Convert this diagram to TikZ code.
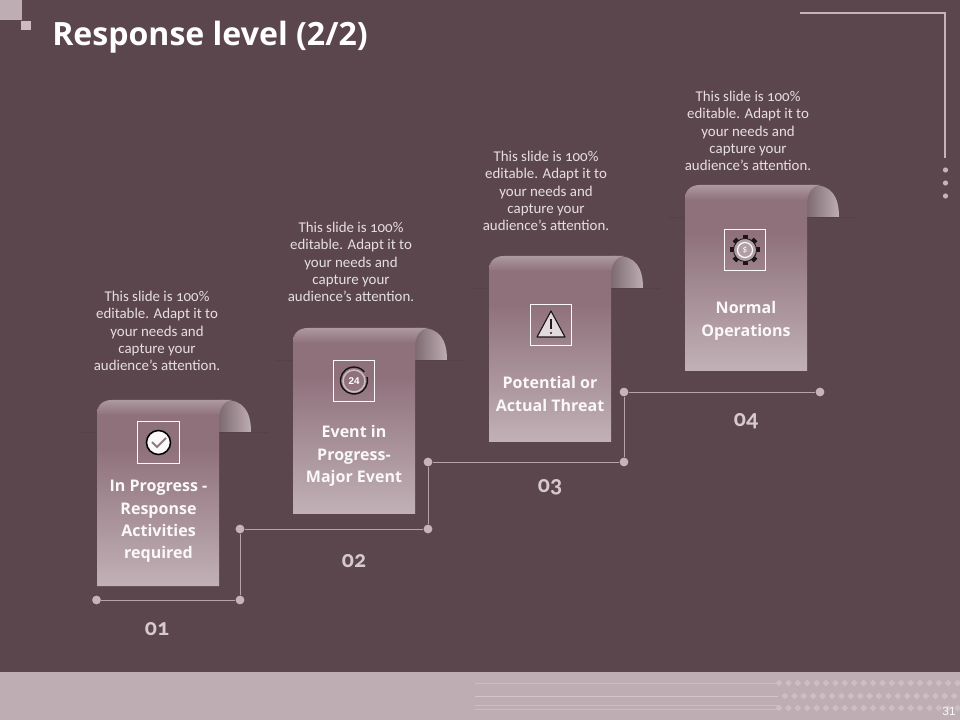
\documentclass[tikz,border=0pt]{standalone}
\usepackage{fontspec}
\usepackage{tikz}
\usetikzlibrary{positioning, calc}
\setmainfont{Carlito}[Numbers=OldStyle]
\newfontfamily\headfont{Open Sans}
\newfontfamily\pagefont{Liberation Sans}
\definecolor{slidebg}{HTML}{5C464D}
\definecolor{footbg}{HTML}{BEADB3}
\definecolor{accent}{HTML}{C6B4BB}
\definecolor{bodytext}{HTML}{E6DFE2}
\definecolor{ribbonmid}{HTML}{8F717C}
\definecolor{ribbontop}{HTML}{AD99A0}
\pgfdeclareverticalshading{ribbonfill}{100bp}{color(0bp)=(footbg!95!white); color(25bp)=(footbg!95!white);
  color(62bp)=(ribbonmid); color(71bp)=(ribbonmid); color(75bp)=(ribbontop); color(100bp)=(ribbontop)}
\tikzset{
  bodylabel/.style={align=center, text=bodytext, font=\fontsize{10.6}{12.4}\selectfont},
  steplabel/.style={align=center, text=white!92!footbg, font=\headfont\bfseries\fontsize{11.4}{15.9}\selectfont},
  numlabel/.style={text=accent!70!white, font=\bfseries\fontsize{17}{18}\selectfont},
  iconbox/.style={draw=white!92!footbg, line width=0.7pt, minimum size=1.03cm, inner sep=0pt},
  stepdot/.style={circle, fill=accent, minimum size=0.22cm, inner sep=0pt},
  stepline/.style={draw=accent!85!slidebg, line width=0.7pt},
  iconline/.style={draw=black!70!slidebg, line width=0.6pt},
  ribbon/.pic={
    % faint line behind the ribbon
    \draw[slidebg!92!black, line width=0.5pt] (-17,32) -- (172,32);
    % back of the curl
    \shade[left color=slidebg!80!white, right color=footbg]
      (122,32) -- (154,32) .. controls (154,11) and (146,0) .. (128,0) -- (122,0) -- cycle;
    % front sheet
    \path[shading=ribbonfill]
      (0,186) -- (0,14) .. controls (0,5) and (6,0) .. (15,0) -- (135,0)
      .. controls (127,1) and (122,8) .. (122,20) -- (122,186) -- cycle;
  }
}
\begin{document}
\begin{tikzpicture}[x=0.025cm, y=-0.025cm]
  \useasboundingbox (0,0) rectangle (960,720);
  \fill[slidebg] (0,0) rectangle (960,720);
  % Footer band
  \fill[footbg] (0,672) rectangle (960,720);
  \draw[footbg!80!white, line width=0.4pt] (475,683) -- (778,683);
  \draw[footbg!70!white, line width=0.5pt] (475,696) -- (778,696);
  \draw[footbg!80!white, line width=0.4pt] (475,705) -- (778,705);
  \draw[footbg!80!white, line width=0.4pt] (475,709) -- (778,709);
  \foreach \rowy/\rowx in {683/779, 696/785, 708/779}
    \foreach \i in {0,...,19}
      \fill[footbg!78!white] ($(\rowx,\rowy)+(9.4*\i,0)$) ++(-3.4,0) -- ++(3.4,-3.4) -- ++(3.4,3.4) -- ++(-3.4,3.4) -- cycle;
  \node[text=white!90!footbg, font=\pagefont\fontsize{8.5}{9}\selectfont] (pagenum) at (949,711) {31};
  % Corner marks
  \fill[footbg] (0,0) rectangle (22,20);
  \fill[accent!90!white] (21,21) rectangle (31,30);
  \draw[accent, line width=1.9pt] (800,13) -- (945,13) -- (945,158);
  \fill[accent] (945.5,170) circle (2.6);
  \fill[accent] (945.5,183) circle (2.6);
  \fill[accent] (945.5,196) circle (2.6);
  \node[anchor=west, inner sep=0pt, text=white, font=\headfont\bfseries\fontsize{22.8}{24}\selectfont] (title) at (52,37) {Response level (2/2)};
  % Ribbons
  \pic at (97,400) {ribbon};
  \pic at (293,328) {ribbon};
  \pic at (489,256) {ribbon};
  \pic at (685,185) {ribbon};
  % Step 01: check mark
  \node[iconbox] (icon01) at (158.5,442.5) {};
  \draw[black, line width=1.1pt, fill=white!92!footbg] (icon01.center) circle (12);
  \draw[accent!70!black, line width=1.3pt] (152,442) -- (157,447) -- (166,438);
  \node[steplabel] (label01) at (158.5,521.5) {In Progress -\\Response\\Activities\\required};
  \node[bodylabel] (text01) at (157,331) {This slide is 100\%\\editable. Adapt it to\\your needs and\\capture your\\audience's attention.};
  % Step 02: clock
  \node[iconbox] (icon02) at (354,381) {};
  \draw[black!75!slidebg, line width=1pt] (367,377) arc[start angle=-15, end angle=320, radius=13.5];
  \draw[footbg!80!white, line width=1.1pt] (354,381) circle (11);
  \node[text=white, inner sep=0pt, font=\pagefont\bfseries\fontsize{7}{8}\selectfont] (clock24) at (icon02.center) {24};
  \node[steplabel] (label02) at (354,456) {Event in\\Progress-\\Major Event};
  \node[bodylabel] (text02) at (351,262) {This slide is 100\%\\editable. Adapt it to\\your needs and\\capture your\\audience's attention.};
  % Step 03: warning sign
  \node[iconbox] (icon03) at (551,325) {};
  \draw[iconline, line width=0.8pt, line join=round, fill=footbg!45!white] (551,311) -- (565,337) -- (537,337) -- cycle;
  \draw[black!60!slidebg, line width=1.3pt] (551,319) -- (551,329);
  \fill[black!60!slidebg] (551,333) circle (1.2);
  \node[steplabel] (label03) at (550,394) {Potential or\\Actual Threat};
  \node[bodylabel] (text03) at (546,191) {This slide is 100\%\\editable. Adapt it to\\your needs and\\capture your\\audience's attention.};
  % Step 04: gear
  \node[iconbox] (icon04) at (745,250) {};
  \foreach \ang in {0,45,...,315}
    \fill[black!70!slidebg, shift={(745,250)}, rotate=\ang] (-2.5,-15) rectangle (2.5,-9);
  \fill[footbg!75!ribbonmid, iconline] (745,250) circle (11.5);
  \draw[white!92!footbg, line width=0.9pt] (745,250) circle (7.5);
  \node[text=white, inner sep=0pt, font=\fontsize{6.5}{7}\selectfont] (gearsign) at (icon04.center) {\$};
  \node[steplabel] (label04) at (746,321) {Normal\\Operations};
  \node[bodylabel] (text04) at (748,131) {This slide is 100\%\\editable. Adapt it to\\your needs and\\capture your\\audience's attention.};
  % Stairs below the ribbons
  \node[stepdot] (stepa) at (96.5,600) {};
  \node[stepdot] (stepb) at (240,600) {};
  \node[stepdot] (stepc) at (240,529) {};
  \node[stepdot] (stepd) at (428,529) {};
  \node[stepdot] (stepe) at (428,462) {};
  \node[stepdot] (stepf) at (624,462) {};
  \node[stepdot] (stepg) at (624,392) {};
  \node[stepdot] (steph) at (820,392) {};
  \draw[stepline] (stepa) -- (stepb);
  \draw[stepline] (stepb) -- (stepc);
  \draw[stepline] (stepc) -- (stepd);
  \draw[stepline] (stepd) -- (stepe);
  \draw[stepline] (stepe) -- (stepf);
  \draw[stepline] (stepf) -- (stepg);
  \draw[stepline] (stepg) -- (steph);
  \node[numlabel] (num01) at (157,629) {01};
  \node[numlabel] (num02) at (354,561) {02};
  \node[numlabel] (num03) at (550,487) {03};
  \node[numlabel] (num04) at (746,421) {04};
\end{tikzpicture}
\end{document}
